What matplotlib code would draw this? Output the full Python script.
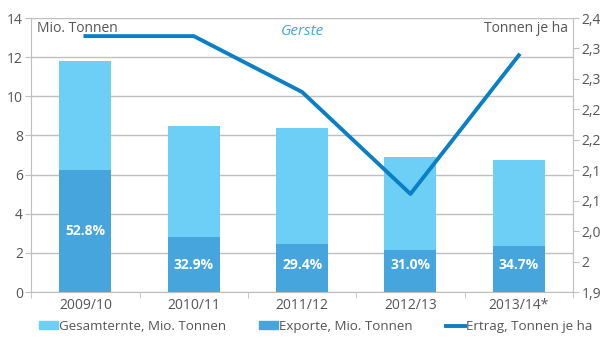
import matplotlib.pyplot as plt
from matplotlib.patches import Patch
from matplotlib.lines import Line2D
import numpy as np

plt.rcParams['font.family'] = ['Open Sans', 'DejaVu Sans']

# Gerste: Ernte, Exportanteil und Ertrag je Saison
seasons = ["2009/10", "2010/11", "2011/12", "2012/13", "2013/14*"]
harvest = [11.8, 8.48, 8.38, 6.9, 6.74]          # Mio. Tonnen
export_share = [52.8, 32.9, 29.4, 31.0, 34.7]    # % der Ernte
yield_t_ha = [2.367, 2.367, 2.265, 2.079, 2.332]  # Tonnen je ha

left_ticks = [0, 2, 4, 6, 8, 10, 12, 14]
right_ticks = np.linspace(1.9, 2.4, 10)
right_labels = ["1,9", "2", "2,0", "2,1", "2,1", "2,2", "2,2", "2,3", "2,3", "2,4"]

light = "#6DCFF6"
dark = "#45A5DC"
line_c = "#0A7FC4"
grid_c = "#BFBFBF"
txt_c = "#555555"

exports = [h * s / 100 for h, s in zip(harvest, export_share)]
x = np.arange(len(seasons))

fig = plt.figure(figsize=(6, 3.4), dpi=100)
ax = fig.add_axes([0.052, 0.141, 0.903, 0.806])

ax.bar(x, harvest, width=0.48, color=light, zorder=2)
ax.bar(x, exports, width=0.48, color=dark, zorder=3)
for xi, e, s in zip(x, exports, export_share):
    ax.text(xi, max(e / 2, 1.4), f"{s:.1f}%", color="white", fontweight="bold",
            ha="center", va="center", fontsize=10, zorder=4)

ax.set_xlim(-0.5, len(seasons) - 0.5)
ax.set_ylim(0, 14)
ax.set_yticks(left_ticks)
ax.yaxis.grid(True, color=grid_c, linewidth=1.0, zorder=0)
ax.set_axisbelow(True)
ax.set_xticks(x)
ax.set_xticklabels(seasons)
ax.set_xticks(np.arange(-0.5, len(seasons)), minor=True)
ax.tick_params(axis="x", which="major", length=0, pad=4, labelsize=10, labelcolor=txt_c)
ax.tick_params(axis="x", which="minor", length=4, color=grid_c)
ax.tick_params(axis="y", length=4, color=grid_c, labelsize=10, labelcolor=txt_c, pad=2)
for side in ["top", "right"]:
    ax.spines[side].set_visible(False)
for side in ["left", "bottom"]:
    ax.spines[side].set_color(grid_c)

ax2 = ax.twinx()
ax2.plot(x, yield_t_ha, color=line_c, linewidth=2.8, zorder=5)
ax2.set_ylim(1.9, 2.4)
ax2.set_yticks(right_ticks)
ax2.set_yticklabels(right_labels)
ax2.tick_params(axis="y", length=4, color=grid_c, labelsize=10, labelcolor=txt_c, pad=2)
for side in ["top", "left", "bottom"]:
    ax2.spines[side].set_visible(False)
ax2.spines["right"].set_color(grid_c)

ax.text(0.01, 0.99, "Mio. Tonnen", transform=ax.transAxes, ha="left", va="top",
        fontsize=10, color=txt_c)
ax.text(0.99, 0.99, "Tonnen je ha", transform=ax.transAxes, ha="right", va="top",
        fontsize=10, color=txt_c)
ax.text(0.5, 0.95, "Gerste", transform=ax.transAxes, ha="center", va="center",
        fontsize=11, color=dark, style="italic")

handles = [Patch(color=light), Patch(color=dark),
           Line2D([0], [0], color=line_c, linewidth=2.8)]
labels = ["Gesamternte, Mio. Tonnen", "Exporte, Mio. Tonnen", "Ertrag, Tonnen je ha"]
fig.legend(handles, labels, loc="center left", bbox_to_anchor=(0.045, 0.04), ncol=3,
           frameon=False, fontsize=9.6, handlelength=1.4, handleheight=0.5,
           handletextpad=0.1, columnspacing=2.5, labelcolor=txt_c)

fig.savefig("out.png", dpi=100)
